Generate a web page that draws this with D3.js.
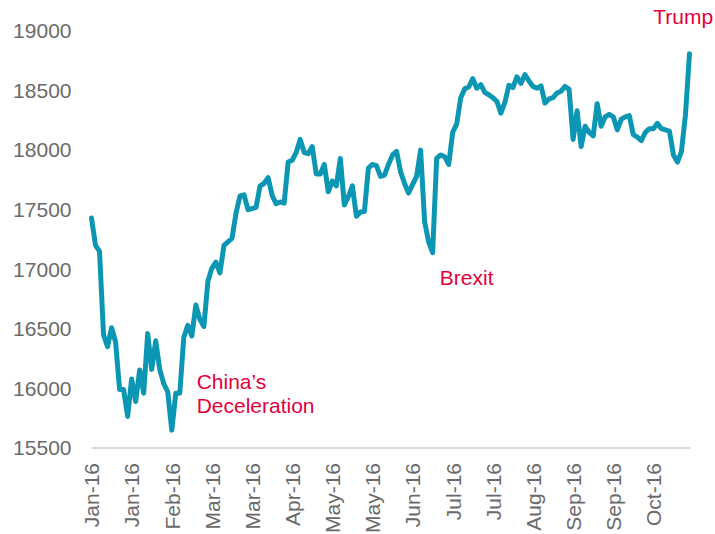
<!DOCTYPE html>
<html>
<head>
<meta charset="utf-8">
<script src="https://cdn.jsdelivr.net/npm/d3@7.9.0/dist/d3.min.js"></script>
<style>
  html, body { margin: 0; padding: 0; background: #fff; }
  svg { display: block; font-family: Arial, "Liberation Sans", sans-serif; }
</style>
</head>
<body>
<svg id="chart" width="715" height="534"></svg>
<script>
// index values (roughly one point per 4px)
const values = [
  17430, 17200, 17150, 16450, 16350, 16510, 16390, 15990, 15990, 15765,
  16080, 15890, 16155, 15960, 16460, 16160, 16400, 16160, 16040, 15970,
  15650, 15960, 15960, 16430, 16530, 16440, 16700, 16580, 16520, 16900,
  17010, 17060, 16970, 17200, 17230, 17260, 17470, 17615, 17625, 17500,
  17510, 17520, 17700, 17720, 17770, 17620, 17550, 17565, 17555, 17900,
  17915, 17980, 18090, 17980, 17970, 18030, 17800, 17800, 17880, 17650,
  17740, 17700, 17930, 17540, 17610, 17700, 17445, 17480, 17485, 17850,
  17880, 17870, 17780, 17790, 17880, 17960, 17990, 17820, 17720, 17640,
  17710, 17780, 18000, 17400, 17230, 17140, 17930, 17960, 17945, 17880,
  18150, 18220, 18440, 18515, 18530, 18600, 18520, 18550, 18485, 18465,
  18440, 18410, 18310, 18400, 18545, 18525, 18615, 18560, 18635, 18580,
  18535, 18520, 18540, 18395, 18430, 18440, 18480, 18495, 18535, 18510,
  18090, 18330, 18030, 18200, 18150, 18120, 18390, 18200, 18280, 18300,
  18280, 18170, 18260, 18280, 18290, 18130, 18110, 18080, 18150, 18180,
  18180, 18225, 18180, 18170, 18160, 17960, 17900, 17990, 18300, 18810
];

const tickLabels = [
  'Jan-16', 'Jan-16', 'Feb-16', 'Mar-16', 'Mar-16', 'Apr-16', 'May-16', 'May-16',
  'Jun-16', 'Jul-16', 'Jul-16', 'Aug-16', 'Sep-16', 'Sep-16', 'Oct-16'
];
const labelEvery = 10;

const yTicks = [15500, 16000, 16500, 17000, 17500, 18000, 18500, 19000];

const eventNames = ["China\u2019s", 'Deceleration', 'Brexit', 'Trump'];

const svg = d3.select('#chart');

const x = d3.scaleLinear().domain([0, values.length - 1]).range([91.5, 689.5]);
const y = d3.scaleLinear().domain([15500, 19000]).range([448, 31]);

const gray = '#6a6a6a';
const red = '#e4003a';

// y axis
const yAxis = svg.append('g')
  .attr('transform', `translate(${x(0)},0)`)
  .call(d3.axisLeft(y).tickValues(yTicks).tickSize(0).tickPadding(20).tickFormat(d3.format('d')));
yAxis.select('.domain').remove();
yAxis.selectAll('text')
  .attr('fill', gray)
  .style('font-size', '21px')
  .style('font-family', 'Arial, "Liberation Sans", sans-serif');

// x axis
const xAxis = svg.append('g')
  .attr('transform', `translate(0,${y(15500)})`)
  .call(d3.axisBottom(x)
    .tickValues(tickLabels.map((d, i) => i * labelEvery))
    .tickSize(0)
    .tickFormat((d, i) => tickLabels[i]));
xAxis.select('.domain')
  .attr('stroke', '#d9d9d9')
  .attr('stroke-width', 2)
  .attr('d', `M${x(0)},0H${x(values.length - 1) + 1}`);
xAxis.selectAll('text')
  .attr('fill', gray)
  .style('font-size', '21px')
  .style('font-family', 'Arial, "Liberation Sans", sans-serif')
  .attr('text-anchor', 'end')
  .attr('transform', 'rotate(-90)')
  .attr('x', -15)
  .attr('y', 0)
  .attr('dy', '0.35em');

// the line
const line = d3.line()
  .x((d, i) => x(i))
  .y(d => y(d));

svg.append('path')
  .datum(values)
  .attr('fill', 'none')
  .attr('stroke', '#0b97b4')
  .attr('stroke-width', 5)
  .attr('stroke-linejoin', 'round')
  .attr('stroke-linecap', 'round')
  .attr('d', line);

// annotations
const notes = svg.append('g')
  .attr('fill', red)
  .style('font-size', '21px');

const china = notes.append('text')
  .attr('x', x(26.2))
  .attr('y', y(15995));
china.append('tspan').text(eventNames[0]);
china.append('tspan').attr('x', x(26.2)).attr('dy', '1.16em').text(eventNames[1]);

notes.append('text')
  .attr('x', x(86.8))
  .attr('y', y(16871))
  .text(eventNames[2]);

notes.append('text')
  .attr('x', x(154.9))
  .attr('y', y(19059))
  .attr('text-anchor', 'end')
  .text(eventNames[3]);
</script>
</body>
</html>
